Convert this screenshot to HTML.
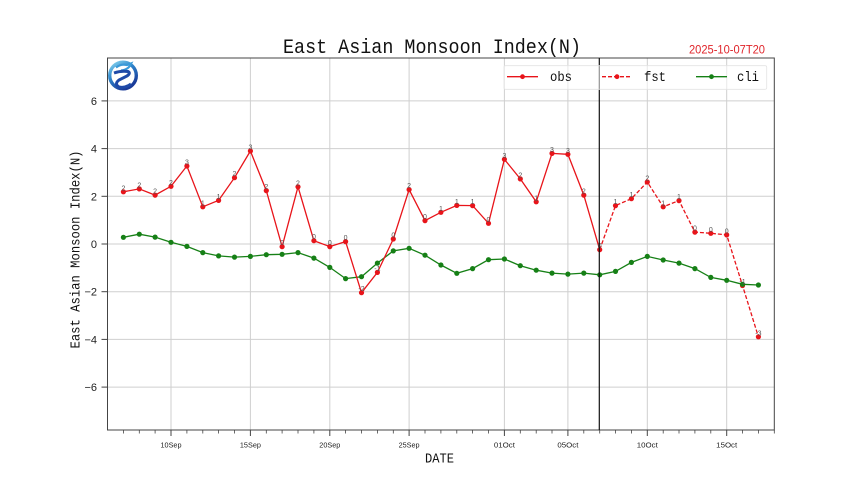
<!DOCTYPE html>
<html><head><meta charset="utf-8"><style>
html,body{margin:0;padding:0;background:#fff;}
svg{display:block;}
</style></head><body>
<svg width="860" height="483" viewBox="0 0 860 483" xmlns="http://www.w3.org/2000/svg">
<defs>
<linearGradient id="lg" x1="0" y1="0" x2="0.6" y2="1">
<stop offset="0" stop-color="#8ad8f0"/><stop offset="0.45" stop-color="#2f86cc"/><stop offset="1" stop-color="#1a3a98"/>
</linearGradient>
</defs>
<rect width="860" height="483" fill="#fff"/>
<!-- grid -->
<g stroke="#cfcfcf" stroke-width="1">
<line x1="107.5" x2="774.3" y1="100.9" y2="100.9"/>
<line x1="107.5" x2="774.3" y1="148.6" y2="148.6"/>
<line x1="107.5" x2="774.3" y1="196.3" y2="196.3"/>
<line x1="107.5" x2="774.3" y1="244" y2="244"/>
<line x1="107.5" x2="774.3" y1="291.7" y2="291.7"/>
<line x1="107.5" x2="774.3" y1="339.4" y2="339.4"/>
<line x1="107.5" x2="774.3" y1="387.1" y2="387.1"/>
<line x1="171" x2="171" y1="58" y2="430"/>
<line x1="250.4" x2="250.4" y1="58" y2="430"/>
<line x1="329.8" x2="329.8" y1="58" y2="430"/>
<line x1="409.1" x2="409.1" y1="58" y2="430"/>
<line x1="504.4" x2="504.4" y1="58" y2="430"/>
<line x1="567.9" x2="567.9" y1="58" y2="430"/>
<line x1="647.3" x2="647.3" y1="58" y2="430"/>
<line x1="726.7" x2="726.7" y1="58" y2="430"/>
</g>
<!-- spines -->
<rect x="107.5" y="58" width="666.8" height="372" fill="none" stroke="#444" stroke-width="1"/>
<!-- x ticks minor -->
<g stroke="#444" stroke-width="0.8">
<line x1="123.4" x2="123.4" y1="430" y2="433.5"/><line x1="139.3" x2="139.3" y1="430" y2="433.5"/><line x1="155.1" x2="155.1" y1="430" y2="433.5"/>
<line x1="186.9" x2="186.9" y1="430" y2="433.5"/><line x1="202.8" x2="202.8" y1="430" y2="433.5"/><line x1="218.6" x2="218.6" y1="430" y2="433.5"/><line x1="234.5" x2="234.5" y1="430" y2="433.5"/>
<line x1="266.3" x2="266.3" y1="430" y2="433.5"/><line x1="282.1" x2="282.1" y1="430" y2="433.5"/><line x1="298" x2="298" y1="430" y2="433.5"/><line x1="313.9" x2="313.9" y1="430" y2="433.5"/>
<line x1="345.6" x2="345.6" y1="430" y2="433.5"/><line x1="361.5" x2="361.5" y1="430" y2="433.5"/><line x1="377.4" x2="377.4" y1="430" y2="433.5"/><line x1="393.3" x2="393.3" y1="430" y2="433.5"/>
<line x1="425" x2="425" y1="430" y2="433.5"/><line x1="440.9" x2="440.9" y1="430" y2="433.5"/><line x1="456.8" x2="456.8" y1="430" y2="433.5"/><line x1="472.6" x2="472.6" y1="430" y2="433.5"/><line x1="488.5" x2="488.5" y1="430" y2="433.5"/>
<line x1="520.3" x2="520.3" y1="430" y2="433.5"/><line x1="536.2" x2="536.2" y1="430" y2="433.5"/><line x1="552" x2="552" y1="430" y2="433.5"/>
<line x1="583.8" x2="583.8" y1="430" y2="433.5"/><line x1="599.7" x2="599.7" y1="430" y2="433.5"/><line x1="615.5" x2="615.5" y1="430" y2="433.5"/><line x1="631.4" x2="631.4" y1="430" y2="433.5"/>
<line x1="663.2" x2="663.2" y1="430" y2="433.5"/><line x1="679" x2="679" y1="430" y2="433.5"/><line x1="694.9" x2="694.9" y1="430" y2="433.5"/><line x1="710.8" x2="710.8" y1="430" y2="433.5"/>
<line x1="742.5" x2="742.5" y1="430" y2="433.5"/><line x1="758.4" x2="758.4" y1="430" y2="433.5"/><line x1="774.3" x2="774.3" y1="430" y2="433.5"/>
</g>
<g stroke="#444" stroke-width="1">
<line x1="171" x2="171" y1="430" y2="436"/><line x1="250.4" x2="250.4" y1="430" y2="436"/><line x1="329.8" x2="329.8" y1="430" y2="436"/><line x1="409.1" x2="409.1" y1="430" y2="436"/>
<line x1="504.4" x2="504.4" y1="430" y2="436"/><line x1="567.9" x2="567.9" y1="430" y2="436"/><line x1="647.3" x2="647.3" y1="430" y2="436"/><line x1="726.7" x2="726.7" y1="430" y2="436"/>
<line x1="101.5" x2="107.5" y1="100.9" y2="100.9"/><line x1="101.5" x2="107.5" y1="148.6" y2="148.6"/><line x1="101.5" x2="107.5" y1="196.3" y2="196.3"/><line x1="101.5" x2="107.5" y1="244" y2="244"/>
<line x1="101.5" x2="107.5" y1="291.7" y2="291.7"/><line x1="101.5" x2="107.5" y1="339.4" y2="339.4"/><line x1="101.5" x2="107.5" y1="387.1" y2="387.1"/>
</g>
<!-- x tick labels -->
<g font-family="Liberation Sans, sans-serif" font-size="7.5" fill="#222" text-anchor="middle">
<text x="171" y="447.5" textLength="21" lengthAdjust="spacingAndGlyphs">10Sep</text>
<text x="250.4" y="447.5" textLength="21" lengthAdjust="spacingAndGlyphs">15Sep</text>
<text x="329.8" y="447.5" textLength="21" lengthAdjust="spacingAndGlyphs">20Sep</text>
<text x="409.1" y="447.5" textLength="21" lengthAdjust="spacingAndGlyphs">25Sep</text>
<text x="504.4" y="447.5" textLength="21" lengthAdjust="spacingAndGlyphs">01Oct</text>
<text x="567.9" y="447.5" textLength="21" lengthAdjust="spacingAndGlyphs">05Oct</text>
<text x="647.3" y="447.5" textLength="21" lengthAdjust="spacingAndGlyphs">10Oct</text>
<text x="726.7" y="447.5" textLength="21" lengthAdjust="spacingAndGlyphs">15Oct</text>
</g>
<!-- y tick labels -->
<g font-family="Liberation Sans, sans-serif" font-size="11" fill="#222" text-anchor="end">
<text x="97" y="104.9">6</text>
<text x="97" y="152.6">4</text>
<text x="97" y="200.3">2</text>
<text x="97" y="248">0</text>
<text x="97" y="295.7">−2</text>
<text x="97" y="343.4">−4</text>
<text x="97" y="391.1">−6</text>
</g>
<!-- axis labels -->
<text x="425" y="462.3" font-family="Liberation Mono, monospace" font-size="14" fill="#111" textLength="29" lengthAdjust="spacingAndGlyphs">DATE</text>
<text transform="translate(79.5,348.5) rotate(-90)" x="0" y="0" font-family="Liberation Mono, monospace" font-size="14" fill="#111" textLength="198" lengthAdjust="spacingAndGlyphs">East Asian Monsoon Index(N)</text>
<!-- title -->
<text x="283" y="53" font-family="Liberation Mono, monospace" font-size="20" fill="#111" textLength="298" lengthAdjust="spacingAndGlyphs">East Asian Monsoon Index(N)</text>
<text x="689" y="53.3" font-family="Liberation Sans, sans-serif" font-size="11.5" fill="#e0242a" textLength="76" lengthAdjust="spacingAndGlyphs">2025-10-07T20</text>

<!-- cli -->
<polyline fill="none" stroke="#168016" stroke-width="1.3" points="123.4,237.3 139.3,234.2 155.1,237.1 171,242.3 186.9,246.4 202.8,252.6 218.6,255.9 234.5,257.1 250.4,256.4 266.3,254.7 282.1,254.3 298,252.6 313.9,258.1 329.8,267.4 345.6,278.6 361.5,276.7 377.4,263.1 393.3,250.9 409.1,248.3 425,255.2 440.9,265 456.8,273.3 472.6,268.6 488.5,259.7 504.4,259 520.3,265.7 536.2,270.2 552,273.1 567.9,274.1 583.8,273.1 599.7,274.8 615.5,271.4 631.4,262.4 647.3,256.4 663.2,260 679,263.1 694.9,268.6 710.8,277.4 726.7,280.3 742.5,284.3 758.4,285"/>
<!-- obs -->
<polyline fill="none" stroke="#e8141a" stroke-width="1.3" points="123.4,191.8 139.3,188.9 155.1,195.1 171,186.3 186.9,166 202.8,206.8 218.6,200.4 234.5,177.7 250.4,151 266.3,190.6 282.1,246.7 298,186.8 313.9,240.7 329.8,246.6 345.6,241.6 361.5,292.7 377.4,272.4 393.3,239 409.1,189.6 425,220.6 440.9,212.3 456.8,205.4 472.6,205.6 488.5,223.3 504.4,159.3 520.3,178.9 536.2,201.8 552,153.4 567.9,154.3 583.8,195.1 599.7,249.7"/>
<!-- fst -->
<polyline fill="none" stroke="#e8141a" stroke-width="1.3" stroke-dasharray="4,2" points="599.7,249.7 615.5,205.6 631.4,198.7 647.3,182 663.2,206.8 679,200.6 694.9,232.1 710.8,233.3 726.7,234.9 742.5,285.5 758.4,336.8"/>
<!-- red markers -->
<g fill="#e8141a">
<circle cx="123.4" cy="191.8" r="2.6"/><circle cx="139.3" cy="188.9" r="2.6"/><circle cx="155.1" cy="195.1" r="2.6"/><circle cx="171" cy="186.3" r="2.6"/><circle cx="186.9" cy="166" r="2.6"/><circle cx="202.8" cy="206.8" r="2.6"/><circle cx="218.6" cy="200.4" r="2.6"/><circle cx="234.5" cy="177.7" r="2.6"/><circle cx="250.4" cy="151" r="2.6"/><circle cx="266.3" cy="190.6" r="2.6"/><circle cx="282.1" cy="246.7" r="2.6"/><circle cx="298" cy="186.8" r="2.6"/><circle cx="313.9" cy="240.7" r="2.6"/><circle cx="329.8" cy="246.6" r="2.6"/><circle cx="345.6" cy="241.6" r="2.6"/><circle cx="361.5" cy="292.7" r="2.6"/><circle cx="377.4" cy="272.4" r="2.6"/><circle cx="393.3" cy="239" r="2.6"/><circle cx="409.1" cy="189.6" r="2.6"/><circle cx="425" cy="220.6" r="2.6"/><circle cx="440.9" cy="212.3" r="2.6"/><circle cx="456.8" cy="205.4" r="2.6"/><circle cx="472.6" cy="205.6" r="2.6"/><circle cx="488.5" cy="223.3" r="2.6"/><circle cx="504.4" cy="159.3" r="2.6"/><circle cx="520.3" cy="178.9" r="2.6"/><circle cx="536.2" cy="201.8" r="2.6"/><circle cx="552" cy="153.4" r="2.6"/><circle cx="567.9" cy="154.3" r="2.6"/><circle cx="583.8" cy="195.1" r="2.6"/><circle cx="599.7" cy="249.7" r="2.6"/>
<circle cx="615.5" cy="205.6" r="2.6"/><circle cx="631.4" cy="198.7" r="2.6"/><circle cx="647.3" cy="182" r="2.6"/><circle cx="663.2" cy="206.8" r="2.6"/><circle cx="679" cy="200.6" r="2.6"/><circle cx="694.9" cy="232.1" r="2.6"/><circle cx="710.8" cy="233.3" r="2.6"/><circle cx="726.7" cy="234.9" r="2.6"/><circle cx="742.5" cy="285.5" r="2.6"/><circle cx="758.4" cy="336.8" r="2.6"/>
</g>
<!-- green markers -->
<g fill="#168016">
<circle cx="123.4" cy="237.3" r="2.6"/><circle cx="139.3" cy="234.2" r="2.6"/><circle cx="155.1" cy="237.1" r="2.6"/><circle cx="171" cy="242.3" r="2.6"/><circle cx="186.9" cy="246.4" r="2.6"/><circle cx="202.8" cy="252.6" r="2.6"/><circle cx="218.6" cy="255.9" r="2.6"/><circle cx="234.5" cy="257.1" r="2.6"/><circle cx="250.4" cy="256.4" r="2.6"/><circle cx="266.3" cy="254.7" r="2.6"/><circle cx="282.1" cy="254.3" r="2.6"/><circle cx="298" cy="252.6" r="2.6"/><circle cx="313.9" cy="258.1" r="2.6"/><circle cx="329.8" cy="267.4" r="2.6"/><circle cx="345.6" cy="278.6" r="2.6"/><circle cx="361.5" cy="276.7" r="2.6"/><circle cx="377.4" cy="263.1" r="2.6"/><circle cx="393.3" cy="250.9" r="2.6"/><circle cx="409.1" cy="248.3" r="2.6"/><circle cx="425" cy="255.2" r="2.6"/><circle cx="440.9" cy="265" r="2.6"/><circle cx="456.8" cy="273.3" r="2.6"/><circle cx="472.6" cy="268.6" r="2.6"/><circle cx="488.5" cy="259.7" r="2.6"/><circle cx="504.4" cy="259" r="2.6"/><circle cx="520.3" cy="265.7" r="2.6"/><circle cx="536.2" cy="270.2" r="2.6"/><circle cx="552" cy="273.1" r="2.6"/><circle cx="567.9" cy="274.1" r="2.6"/><circle cx="583.8" cy="273.1" r="2.6"/><circle cx="599.7" cy="274.8" r="2.6"/><circle cx="615.5" cy="271.4" r="2.6"/><circle cx="631.4" cy="262.4" r="2.6"/><circle cx="647.3" cy="256.4" r="2.6"/><circle cx="663.2" cy="260" r="2.6"/><circle cx="679" cy="263.1" r="2.6"/><circle cx="694.9" cy="268.6" r="2.6"/><circle cx="710.8" cy="277.4" r="2.6"/><circle cx="726.7" cy="280.3" r="2.6"/><circle cx="742.5" cy="284.3" r="2.6"/><circle cx="758.4" cy="285" r="2.6"/>
</g>
<!-- point labels -->
<g font-family="Liberation Sans, sans-serif" font-size="7" fill="#555" text-anchor="middle">
<text x="123.4" y="190.3">2</text><text x="139.3" y="187.4">2</text><text x="155.1" y="193.6">2</text><text x="171" y="184.8">2</text><text x="186.9" y="164.5">3</text><text x="202.8" y="205.3">1</text><text x="218.6" y="198.9">1</text><text x="234.5" y="176.2">2</text><text x="250.4" y="149.5">3</text><text x="266.3" y="189.1">2</text><text x="282.1" y="245.2">0</text><text x="298" y="185.3">2</text><text x="313.9" y="239.2">0</text><text x="329.8" y="245.1">0</text><text x="345.6" y="240.1">0</text><text x="361.5" y="291.2">-2</text><text x="377.4" y="270.9">-1</text><text x="393.3" y="237.5">0</text><text x="409.1" y="188.1">2</text><text x="425" y="219.1">0</text><text x="440.9" y="210.8">1</text><text x="456.8" y="203.9">1</text><text x="472.6" y="204.1">1</text><text x="488.5" y="221.8">0</text><text x="504.4" y="157.8">3</text><text x="520.3" y="177.4">2</text><text x="536.2" y="200.3">1</text><text x="552" y="151.9">3</text><text x="567.9" y="152.8">3</text><text x="583.8" y="193.6">2</text><text x="599.7" y="248.2">0</text>
<text x="615.5" y="204.1">1</text><text x="631.4" y="197.2">1</text><text x="647.3" y="180.5">2</text><text x="663.2" y="205.3">1</text><text x="679" y="199.1">1</text><text x="694.9" y="230.6">0</text><text x="710.8" y="231.8">0</text><text x="726.7" y="233.4">0</text><text x="742.5" y="284">-1</text><text x="758.4" y="335.3">-3</text>
</g>
<!-- vertical line -->
<line x1="599.3" x2="599.3" y1="58" y2="430" stroke="#111" stroke-width="1.2"/>
<!-- legend -->
<rect x="504" y="65.7" width="262.7" height="23.6" fill="#fff" fill-opacity="0.55" stroke="#e4e4e4" stroke-width="0.8" rx="1.5"/>
<line x1="507" x2="538" y1="76.7" y2="76.7" stroke="#e8141a" stroke-width="1.3"/>
<circle cx="522.5" cy="76.7" r="2.4" fill="#e8141a"/>
<line x1="602" x2="632" y1="76.7" y2="76.7" stroke="#e8141a" stroke-width="1.3" stroke-dasharray="4,2"/>
<circle cx="617" cy="76.7" r="2.4" fill="#e8141a"/>
<line x1="696" x2="727" y1="76.7" y2="76.7" stroke="#168016" stroke-width="1.3"/>
<circle cx="711.5" cy="76.7" r="2.4" fill="#168016"/>
<g font-family="Liberation Mono, monospace" font-size="14" fill="#111">
<text x="550" y="81" textLength="22" lengthAdjust="spacingAndGlyphs">obs</text>
<text x="644" y="81" textLength="22" lengthAdjust="spacingAndGlyphs">fst</text>
<text x="737" y="81" textLength="22" lengthAdjust="spacingAndGlyphs">cli</text>
</g>
<!-- logo -->
<g>
<circle cx="123" cy="75.5" r="13.3" fill="none" stroke="url(#lg)" stroke-width="3.4"/>
<path d="M116,67.5 Q121,63.5 127,65 L131,63.5 L129,67 Q126,70 121,70.5" fill="none" stroke="#3a9ad8" stroke-width="2.2"/>
<path d="M114,73 Q121,70.5 128,71.5 Q131,73 127,76 L119,80 Q114,84 119,87 Q125,88.5 131,84" fill="none" stroke="#1f4aa8" stroke-width="3"/>
</g>
</svg>
</body></html>
